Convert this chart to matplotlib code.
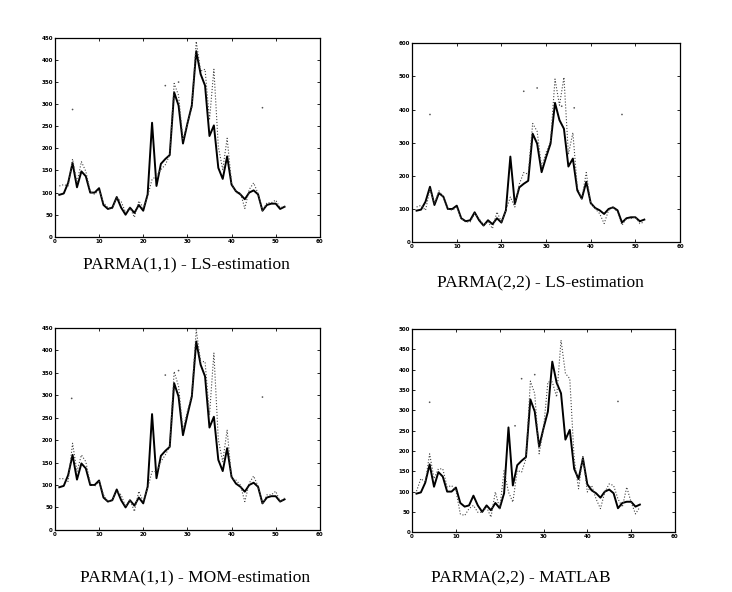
#!/usr/bin/env python3
"""
Observed series vs. fitted PARMA models, four panels.
Solid = observed, dotted = model output.
"""
import matplotlib
matplotlib.use('Agg')
import matplotlib.pyplot as plt

weeks = list(range(1, 53))

observed = [95, 98, 122, 167, 112, 148, 137, 100, 100, 110,
            72, 63, 66, 90, 66, 50, 66, 54, 72, 59,
            96, 258, 115, 165, 176, 185, 327, 297, 211, 256,
            297, 420, 368, 342, 228, 252, 156, 131, 182, 118,
            103, 96, 85, 100, 105, 96, 59, 72, 75, 75,
            63, 68]

ls11 = [115, 118, 115, 176, 122, 170, 148, 103, 96, 107,
        77, 66, 64, 88, 80, 55, 66, 44, 81, 66,
        92, 130, 137, 152, 163, 185, 347, 320, 219, 256,
        293, 442, 375, 379, 264, 379, 204, 152, 223, 122,
        100, 100, 64, 107, 122, 98, 59, 77, 77, 83,
        66, 68]

ls22 = [106, 111, 96, 160, 116, 155, 136, 101, 96, 106,
        71, 61, 61, 86, 71, 51, 61, 41, 91, 61,
        96, 136, 106, 175, 210, 205, 358, 334, 225, 270,
        304, 492, 413, 497, 265, 330, 165, 131, 210, 116,
        101, 86, 56, 96, 106, 91, 51, 71, 71, 76,
        56, 61]

mom11 = [114, 114, 108, 193, 130, 167, 152, 104, 97, 108,
         78, 63, 67, 86, 78, 52, 67, 41, 86, 63,
         93, 130, 130, 152, 167, 186, 353, 320, 223, 264,
         301, 446, 375, 375, 256, 394, 201, 152, 223, 115,
         111, 100, 63, 104, 120, 97, 57, 78, 78, 86,
         63, 71]

matlab22 = [101, 132, 123, 193, 132, 156, 156, 111, 115, 103,
            45, 41, 58, 66, 49, 49, 62, 37, 99, 58,
            152, 99, 74, 152, 148, 181, 372, 341, 193, 255,
            370, 370, 333, 473, 391, 378, 181, 107, 189, 99,
            115, 82, 58, 99, 119, 115, 82, 62, 111, 74,
            45, 62]

# stray specks from the scan
specks = [
    ([4, 25, 28, 47], [288, 342, 350, 292]),
    ([4, 25, 28, 47, 33.5, 36.3], [385, 455, 465, 385, 410, 405]),
    ([3.8, 25, 28, 47], [293, 345, 355, 296]),
    ([4, 25, 28, 47, 23.5], [320, 378, 388, 322, 262]),
]

titles = ['PARMA(1,1) - LS-estimation', 'PARMA(2,2) - LS-estimation',
          'PARMA(1,1) - MOM-estimation', 'PARMA(2,2) - MATLAB']
fits = [ls11, ls22, mom11, matlab22]
ymax = [450, 600, 450, 500]
ystep = [50, 100, 50, 50]

# axes rects in figure fractions
rects = [
    [0.075, 0.600, 0.362, 0.336],
    [0.563, 0.591, 0.366, 0.336],
    [0.075, 0.105, 0.362, 0.341],
    [0.563, 0.101, 0.359, 0.343],
]
title_pos = [(186, 265), (540, 283), (195, 578), (521, 578)]


def plot():
    fig = plt.figure(figsize=(7.32, 5.92), dpi=100)
    for i in range(4):
        ax = fig.add_axes(rects[i])
        ax.plot(weeks, observed, color='black', lw=1.4)
        ax.plot(weeks, fits[i], color='#444444', lw=0.8, ls=':')
        ax.scatter(specks[i][0], specks[i][1], s=1.5, color='#555555',
                   edgecolors='none')
        ax.set_xlim(0, 60)
        ax.set_ylim(0, ymax[i])
        ax.set_xticks(range(0, 61, 10))
        ax.set_yticks(range(0, ymax[i] + 1, ystep[i]))
        ax.tick_params(direction='in', top=True, right=True, length=2,
                       width=0.6, labelsize=4, pad=1.5)
        for lab in ax.get_xticklabels() + ax.get_yticklabels():
            lab.set_fontweight('bold')
        for sp in ax.spines.values():
            sp.set_linewidth(0.9)
        fig.text(title_pos[i][0] / 732, 1 - title_pos[i][1] / 592, titles[i],
                 ha='center', va='center', fontsize=12.5,
                 family='Liberation Serif')

    plt.savefig('out.png', dpi=100)


if __name__ == "__main__":
    plot()
